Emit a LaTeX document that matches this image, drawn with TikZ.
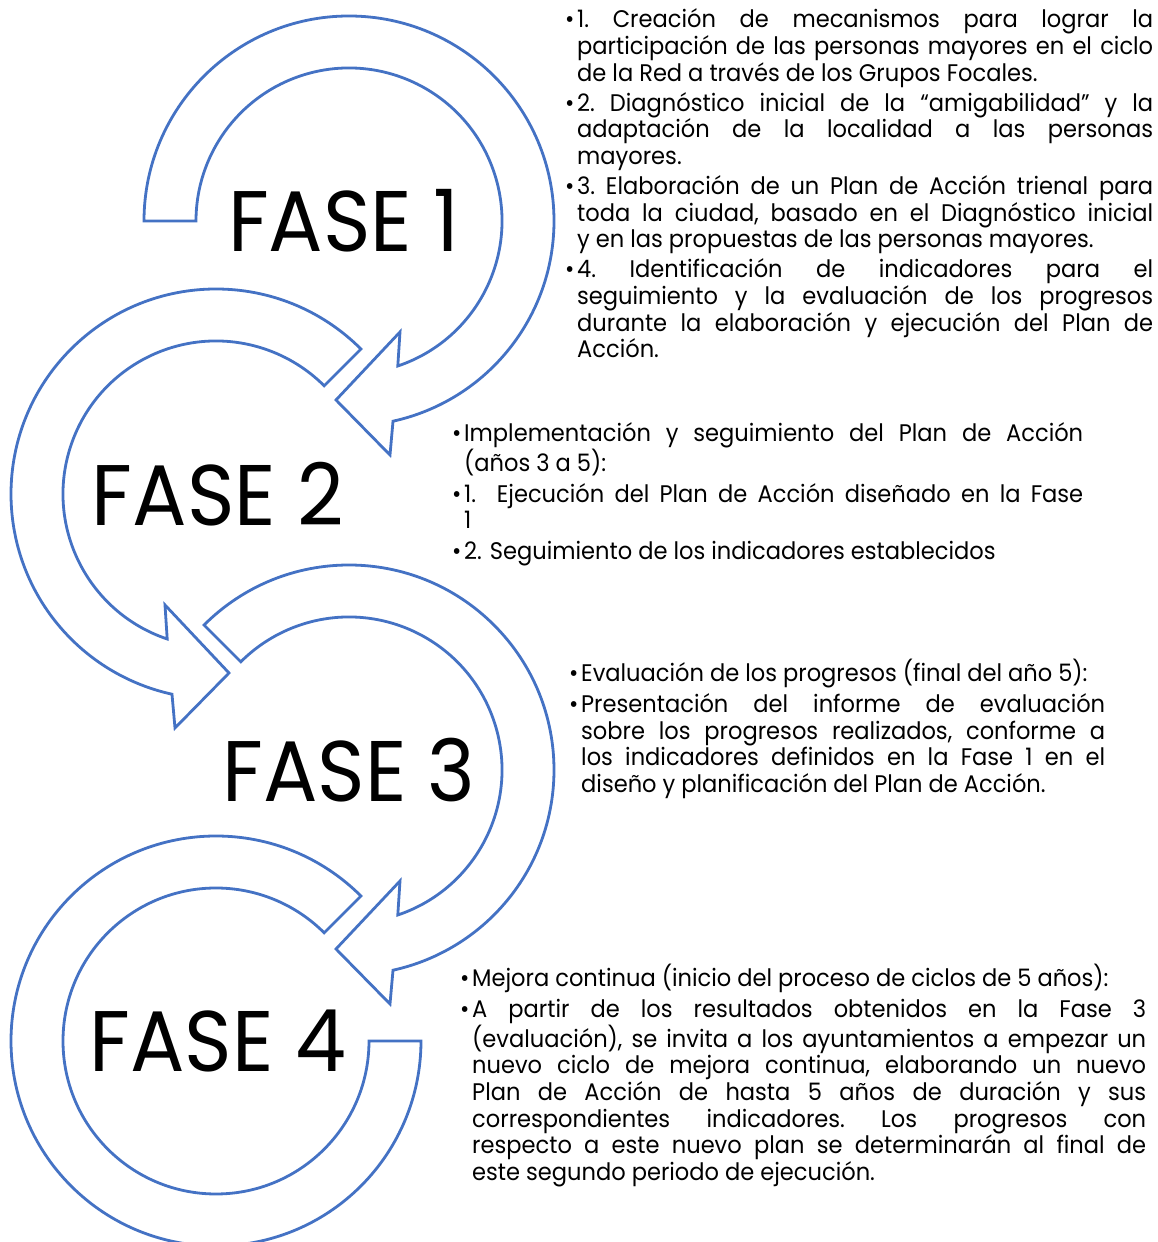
\documentclass[tikz,border=0pt]{standalone}
\usepackage{fontspec}
\setmainfont{Poppins}[FakeStretch=0.94,Numbers=Proportional]
\usetikzlibrary{calc}
\definecolor{arrowblue}{HTML}{4472C4}

\newcommand{\bitem}[1]{\hangindent=12pt\hangafter=1\noindent\makebox[12pt][l]{\textbullet}#1\par}

\begin{document}
\begin{tikzpicture}[x=1pt,y=1pt,
  phase arrow/.style={draw=arrowblue,fill=white,line width=2.8pt,line join=miter},
  phase label/.style={font=\fontsize{86}{86}\selectfont,inner sep=0pt},
  info box/.style={anchor=base west,inner sep=0pt,align=justify,font=\fontsize{24}{26.6}\selectfont\frenchspacing}]

\useasboundingbox (0,0) rectangle (1157,1242);

\coordinate (c1) at (349,1021);
\coordinate (c2) at (216,748);
\coordinate (c3) at (349,472);
\coordinate (c4) at (216,201);

% circular arrows
\draw[phase arrow] ($(c1)+(180:205)$) arc[start angle=180,end angle=-77.6,radius=205]
  -- ($(c1)+(41,-234)$) -- ($(c1)+(-13,-179)$) -- ($(c1)+(51,-111)$)
  -- ($(c1)+(-71.4:153)$) arc[start angle=-71.4,end angle=180,radius=153] -- cycle; %1
\draw[phase arrow] ($(c2)+(45:205)$) arc[start angle=45,end angle=257.6,radius=205]
  -- ($(c2)+(-41,-234)$) -- ($(c2)+(13,-179)$) -- ($(c2)+(-51,-111)$)
  -- ($(c2)+(251.4:153)$) arc[start angle=251.4,end angle=45,radius=153] -- cycle; %2
\draw[phase arrow] ($(c3)+(135:205)$) arc[start angle=135,end angle=-77.6,radius=205]
  -- ($(c3)+(41,-234)$) -- ($(c3)+(-13,-179)$) -- ($(c3)+(51,-111)$)
  -- ($(c3)+(-71.4:153)$) arc[start angle=-71.4,end angle=135,radius=153] -- cycle; %3
\draw[phase arrow] ($(c4)+(45:205)$) arc[start angle=45,end angle=360,radius=205]
  -- ($(c4)+(0:153)$) arc[start angle=360,end angle=45,radius=153] -- cycle; %4

% phase labels
\node[phase label] (fase1) at ($(c1)+(-5,0)$) {FASE 1};
\node[phase label] (fase2) at ($(c2)+(2,0)$) {FASE 2};
\node[phase label] (fase3) at (c3) {FASE 3};
\node[phase label] (fase4) at ($(c4)+(2,0)$) {FASE 4};

% descriptions
\node[info box,text width=588pt] (txt1) at (565,1214) {\setlength{\parskip}{3.5pt}%
\bitem{1. Creación de mecanismos para lograr la\linebreak participación de las personas mayores en el ciclo\linebreak de la Red a través de los Grupos Focales.}
\bitem{2. Diagnóstico inicial de la “amigabilidad” y la\linebreak adaptación de la localidad a las personas\linebreak mayores.}
\bitem{3. Elaboración de un Plan de Acción trienal para\linebreak toda la ciudad, basado en el Diagnóstico inicial\linebreak y en las propuestas de las personas mayores.}
\bitem{4. Identificación de indicadores para el\linebreak seguimiento y la evaluación de los progresos\linebreak durante la elaboración y ejecución del Plan de\linebreak Acción.}};

\node[info box,text width=631pt,font=\fontsize{24}{25.6}\selectfont] (txt2) at (452,800) {\setlength{\parskip}{5.5pt}%
\bitem{Implementación y seguimiento del Plan de Acción\linebreak (años 3 a 5):}
\bitem{1. Ejecución del Plan de Acción diseñado en la Fase\linebreak 1}
\bitem{2. Seguimiento de los indicadores establecidos}};

\node[info box,text width=536pt] (txt3) at (569,560) {\setlength{\parskip}{4pt}%
\bitem{Evaluación de los progresos (final del año 5):}
\bitem{Presentación del informe de evaluación\linebreak sobre los progresos realizados, conforme a\linebreak los indicadores definidos en la Fase 1 en el\linebreak diseño y planificación del Plan de Acción.}};

\node[info box,text width=686pt] (txt4) at (460,255.5) {\setlength{\parskip}{4.5pt}%
\bitem{Mejora continua (inicio del proceso de ciclos de 5 años):}
\bitem{A partir de los resultados obtenidos en la Fase 3\linebreak (evaluación), se invita a los ayuntamientos a empezar un\linebreak nuevo ciclo de mejora continua, elaborando un nuevo\linebreak Plan de Acción de hasta 5 años de duración y sus\linebreak correspondientes indicadores. Los progresos con\linebreak respecto a este nuevo plan se determinarán al final de\linebreak este segundo periodo de ejecución.}};

\end{tikzpicture}
\end{document}
